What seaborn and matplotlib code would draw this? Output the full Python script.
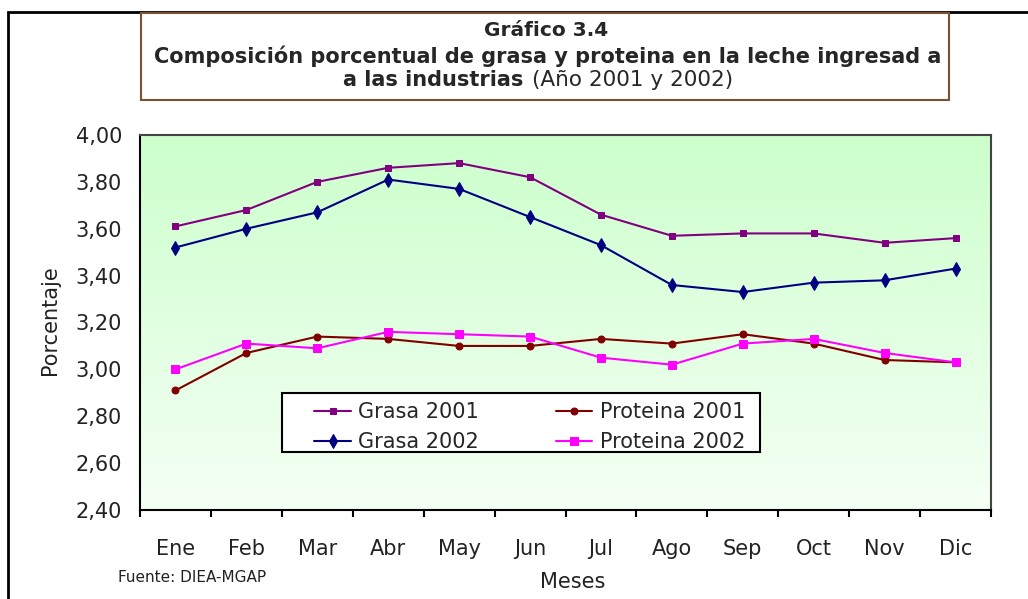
import numpy as np
import pandas as pd
import matplotlib
matplotlib.use("Agg")
import matplotlib.pyplot as plt
from matplotlib.patches import Rectangle
import seaborn as sns

# data
meses = ["Ene", "Feb", "Mar", "Abr", "May", "Jun", "Jul", "Ago", "Sep", "Oct", "Nov", "Dic"]
grasa_2001 = [3.61, 3.68, 3.80, 3.86, 3.88, 3.82, 3.66, 3.57, 3.58, 3.58, 3.54, 3.56]
grasa_2002 = [3.52, 3.60, 3.67, 3.81, 3.77, 3.65, 3.53, 3.36, 3.33, 3.37, 3.38, 3.43]
proteina_2001 = [2.91, 3.07, 3.14, 3.13, 3.10, 3.10, 3.13, 3.11, 3.15, 3.11, 3.04, 3.03]
proteina_2002 = [3.00, 3.11, 3.09, 3.16, 3.15, 3.14, 3.05, 3.02, 3.11, 3.13, 3.07, 3.03]
y_ticks = [2.40, 2.60, 2.80, 3.00, 3.20, 3.40, 3.60, 3.80, 4.00]

series = {
    "Grasa 2001": grasa_2001,
    "Grasa 2002": grasa_2002,
    "Proteina 2001": proteina_2001,
    "Proteina 2002": proteina_2002,
}
styles = {
    "Grasa 2001": dict(color="#800080", marker="s", markersize=4),
    "Grasa 2002": dict(color="#000080", marker="d", markersize=7),
    "Proteina 2001": dict(color="#800000", marker="o", markersize=5),
    "Proteina 2002": dict(color="#ff00ff", marker="s", markersize=6),
}

df = pd.concat([
    pd.DataFrame({"idx": range(len(meses)), "Mes": meses, "Valor": vals, "Serie": name})
    for name, vals in series.items()
])

sns.set_theme(style="white")
plt.rcParams["font.family"] = ["DejaVu Sans"]

W, H = 1028, 599
fig = plt.figure(figsize=(W / 100, H / 100), dpi=100)
ax = fig.add_axes([140 / W, 1 - 510 / H, (991 - 140) / W, (510 - 135) / H])

# green gradient background, darker at the top
grad = np.linspace(0, 1, 256).reshape(-1, 1)
top = np.array([0.80, 1.0, 0.80])
bot = np.array([0.96, 1.0, 0.96])
img = top + (bot - top) * grad[:, :, None]
ax.imshow(img, extent=[-0.5, 11.5, 2.4, 4.0], origin="upper", aspect="auto", zorder=0)

for name in series:
    st = styles[name]
    sns.lineplot(data=df[df["Serie"] == name], x="idx", y="Valor", ax=ax,
                 color=st["color"], marker=st["marker"], markersize=st["markersize"],
                 markeredgecolor=st["color"], linewidth=1.5, label=name, zorder=3)

ax.set_xlim(-0.5, 11.5)
ax.set_ylim(2.40, 4.00)
ax.set_yticks(y_ticks)
ax.set_yticklabels([f"{v:.2f}".replace(".", ",") for v in y_ticks], fontsize=15, color="#222222")
ax.tick_params(axis="y", length=0, pad=13)

# ticks between categories, labels at centers
ax.set_xticks(np.arange(-0.5, 12, 1))
ax.set_xticklabels([])
ax.set_xticks(range(len(meses)), minor=True)
ax.set_xticklabels(meses, minor=True, fontsize=15, color="#222222")
ax.tick_params(axis="x", which="major", direction="out", length=5, width=1.5, color="black", bottom=True)
ax.tick_params(axis="x", which="minor", length=0, pad=21)

for side in ["left", "bottom"]:
    ax.spines[side].set_color("black")
    ax.spines[side].set_linewidth(1.5)
for side in ["top", "right"]:
    ax.spines[side].set_color("#444444")
    ax.spines[side].set_linewidth(1.5)

ax.set_xlabel("")
ax.set_ylabel("")
ax.grid(False)

# legend box drawn separately so its padding matches
ax.add_patch(Rectangle((282 / W, 1 - 452 / H), (760 - 282) / W, (452 - 393) / H,
                       transform=fig.transFigure, facecolor="white", edgecolor="black",
                       linewidth=1.5, zorder=5, clip_on=False))
leg = ax.legend(ncol=2, loc="upper left", bbox_to_anchor=(304 / W, 1 - 392 / H),
                bbox_transform=fig.transFigure, fontsize=15, frameon=False, borderpad=0,
                handlelength=1.75, handletextpad=0.35, columnspacing=3.7, labelspacing=0.45)
leg.set_zorder(6)

# axis titles and source
fig.text(50 / W, 1 - 320 / H, "Porcentaje", rotation=90, ha="center", va="center",
         fontsize=15, color="#222222")
fig.text(573 / W, 1 - 582 / H, "Meses", ha="center", va="center", fontsize=15, color="#222222")
fig.text(118 / W, 1 - 578 / H, "Fuente: DIEA-MGAP", ha="left", va="center", fontsize=11, color="#222222")

# outer frame and title box
fig.patches.append(Rectangle((8 / W, -0.05), 1.1, 1 - 12 / H + 0.05, transform=fig.transFigure,
                             fill=False, edgecolor="black", linewidth=2))
fig.patches.append(Rectangle((141 / W, 1 - 100 / H), (949 - 141) / W, (100 - 13) / H,
                             transform=fig.transFigure, fill=True, facecolor="white",
                             edgecolor="#7a5230", linewidth=1.5))

fig.text(546 / W, 1 - 31 / H, "Gráfico 3.4", ha="center", va="center", fontsize=14.5, fontweight="bold")
fig.text(548 / W, 1 - 56 / H, "Composición porcentual de grasa y proteina en la leche ingresad a",
         ha="center", va="center", fontsize=15, fontweight="bold")
fig.text(523 / W, 1 - 80 / H, "a las industrias", ha="right", va="center", fontsize=15, fontweight="bold")
fig.text(532 / W, 1 - 80 / H, "(Año 2001 y 2002)", ha="left", va="center", fontsize=15.5)

fig.savefig("out.png", dpi=100)
